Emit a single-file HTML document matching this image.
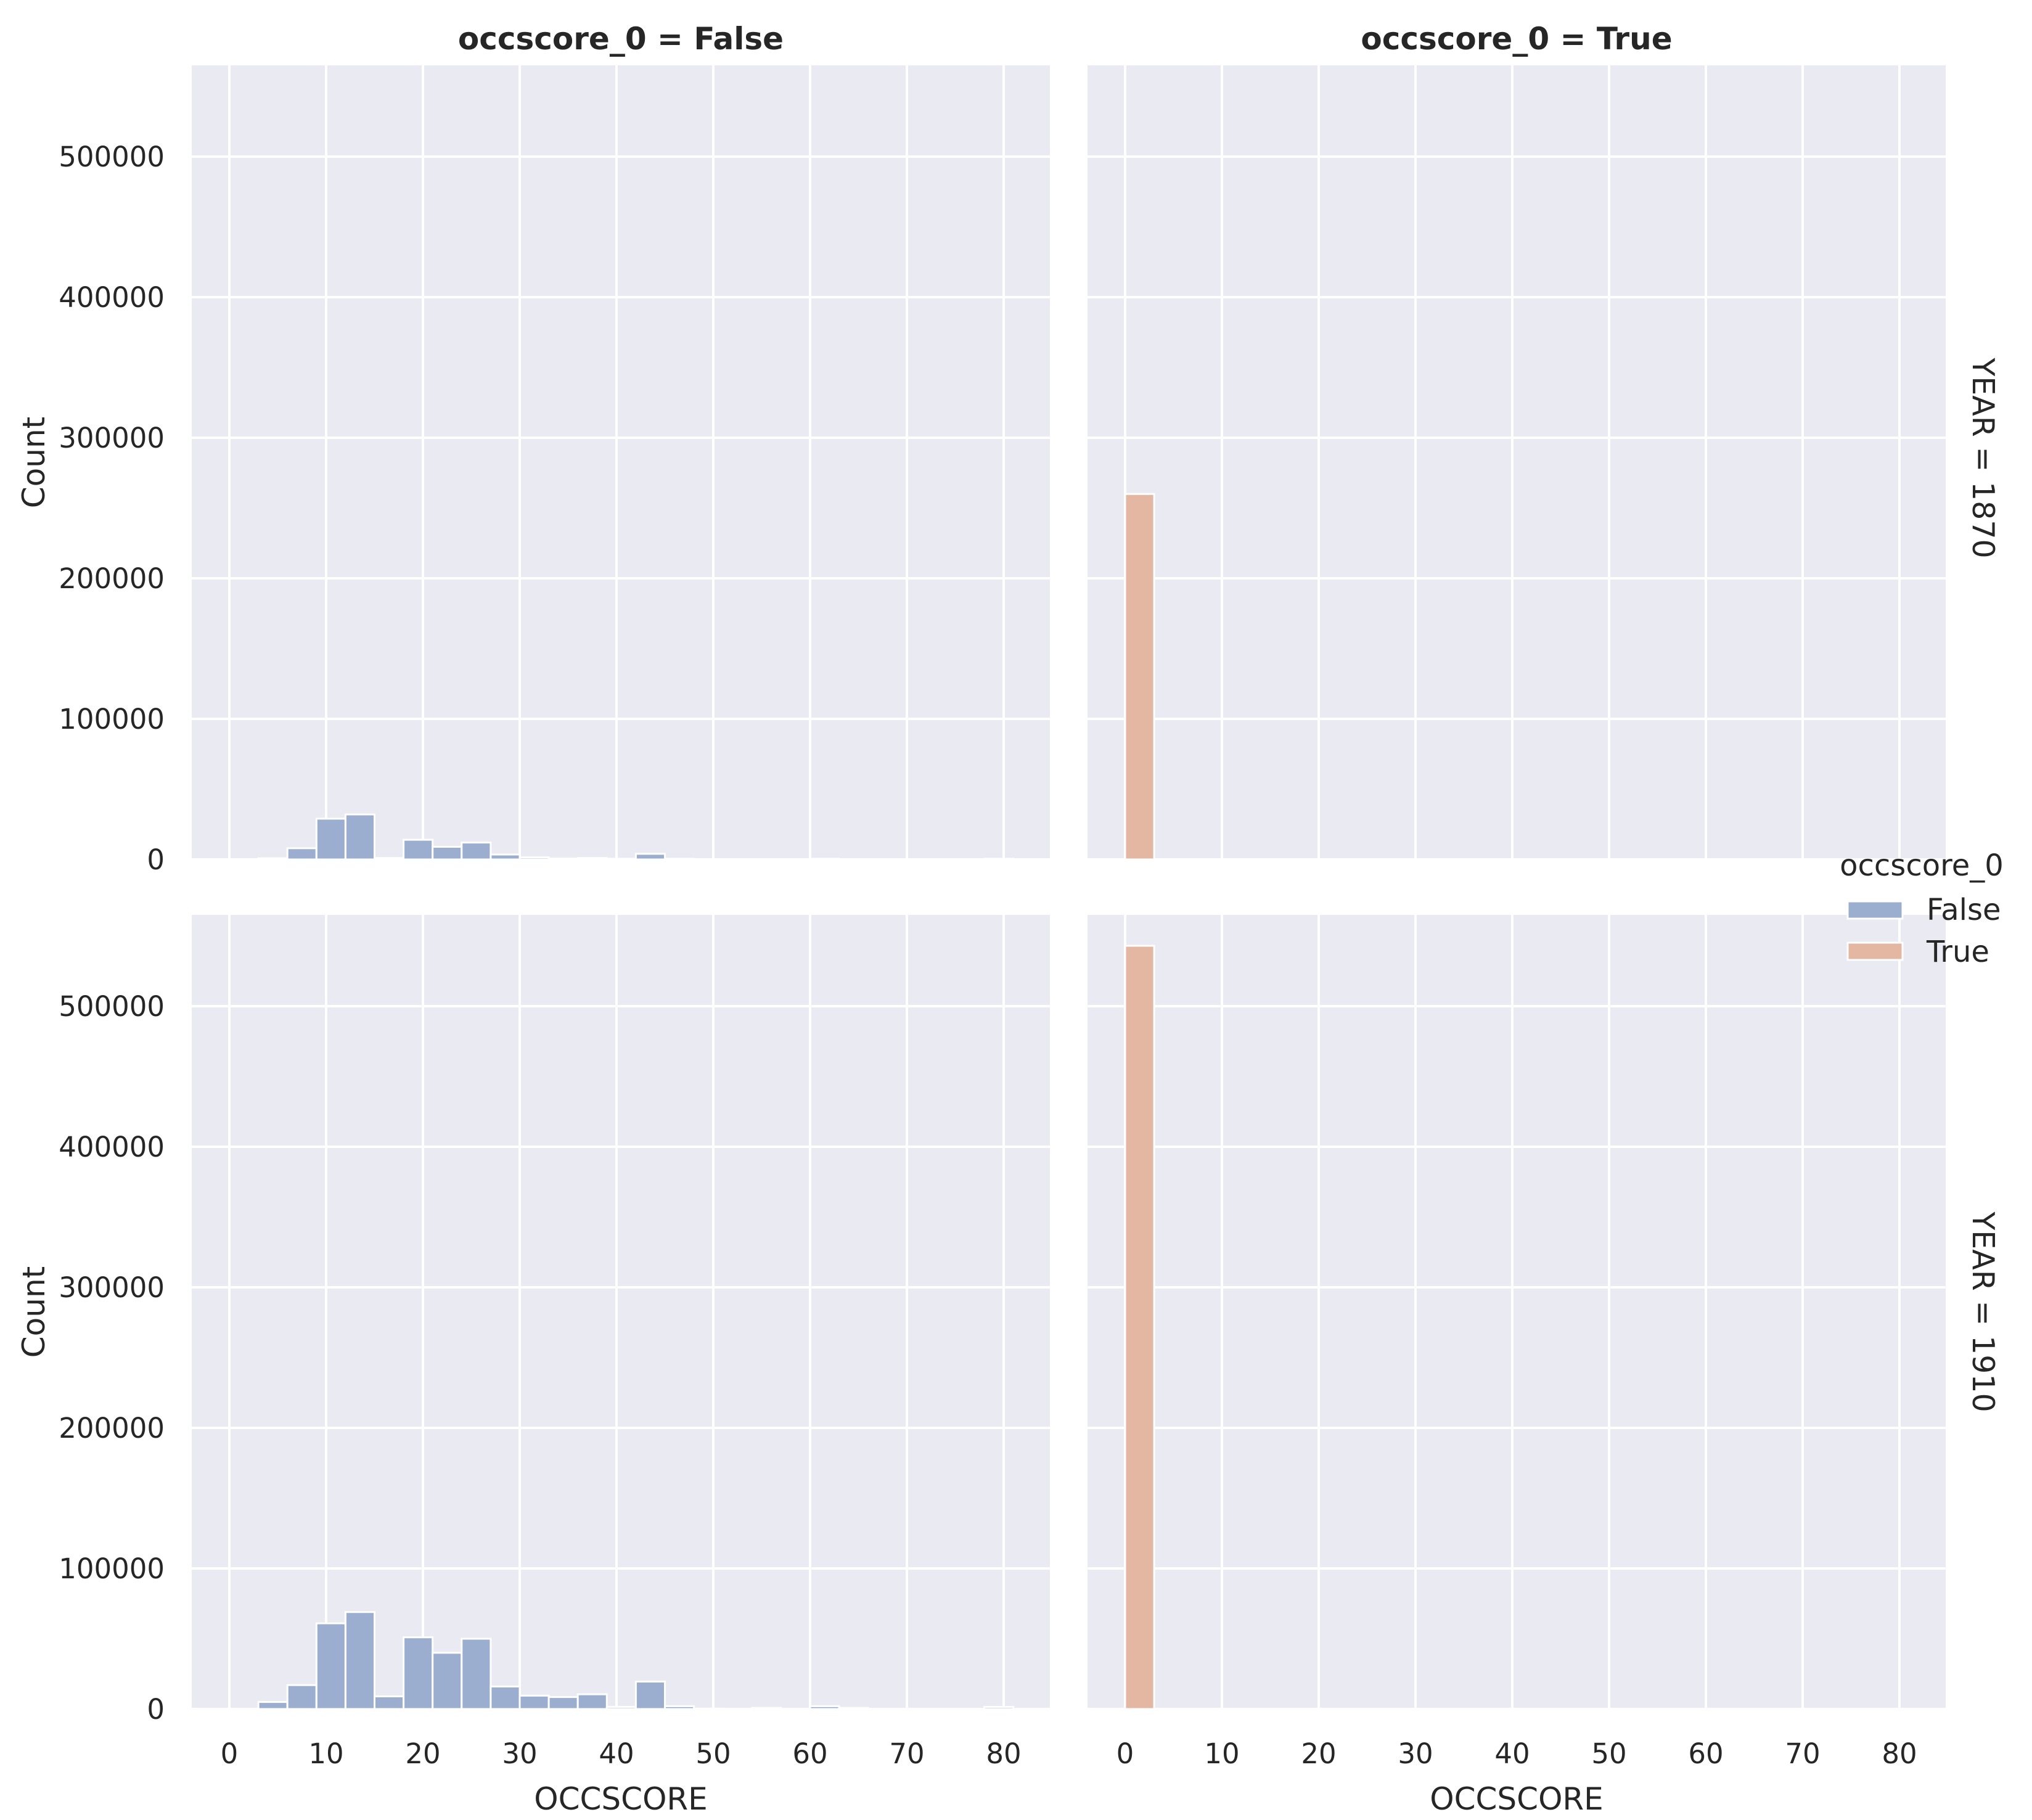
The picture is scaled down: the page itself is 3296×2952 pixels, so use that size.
<!DOCTYPE html>
<html><head><meta charset="utf-8"><style>html,body{margin:0;padding:0;background:#fff}svg{display:block}</style></head><body>
<svg width="3296" height="2952" viewBox="0 0 3296 2952" xmlns="http://www.w3.org/2000/svg" font-family="DejaVu Sans, Liberation Sans, sans-serif" fill="#262626">
<defs>
<g id="vg" stroke="#fff" stroke-width="4">
<line x1="61" y1="0" x2="61" y2="1288"/><line x1="218" y1="0" x2="218" y2="1288"/><line x1="375" y1="0" x2="375" y2="1288"/><line x1="532" y1="0" x2="532" y2="1288"/><line x1="689" y1="0" x2="689" y2="1288"/><line x1="846" y1="0" x2="846" y2="1288"/><line x1="1003" y1="0" x2="1003" y2="1288"/><line x1="1160" y1="0" x2="1160" y2="1288"/><line x1="1317" y1="0" x2="1317" y2="1288"/>
<line x1="0" y1="1288" x2="1392" y2="1288"/><line x1="0" y1="1060" x2="1392" y2="1060"/><line x1="0" y1="832" x2="1392" y2="832"/><line x1="0" y1="604" x2="1392" y2="604"/><line x1="0" y1="376" x2="1392" y2="376"/><line x1="0" y1="148" x2="1392" y2="148"/>
</g>
</defs>
<rect x="311" y="106" width="1392" height="1288" fill="#eaeaf2"/>
<rect x="1764" y="106" width="1392" height="1288" fill="#eaeaf2"/>
<rect x="311" y="1484" width="1392" height="1288" fill="#eaeaf2"/>
<rect x="1764" y="1484" width="1392" height="1288" fill="#eaeaf2"/>
<use href="#vg" x="311" y="106"/>
<use href="#vg" x="1764" y="106"/>
<use href="#vg" x="311" y="1484"/>
<use href="#vg" x="1764" y="1484"/>

<g fill="#9baed0" stroke="#fff" stroke-width="3">
<rect x="419.1" y="1392.2" width="47.1" height="1.8"/>
<rect x="466.2" y="1375.8" width="47.1" height="18.2"/>
<rect x="513.3" y="1327.9" width="47.1" height="66.1"/>
<rect x="560.4" y="1321" width="47.1" height="73"/>
<rect x="607.5" y="1391.7" width="47.1" height="2.3"/>
<rect x="654.6" y="1362.1" width="47.1" height="31.9"/>
<rect x="701.7" y="1373.5" width="47.1" height="20.5"/>
<rect x="748.8" y="1366.6" width="47.1" height="27.4"/>
<rect x="795.9" y="1386" width="47.1" height="8"/>
<rect x="843" y="1390.6" width="47.1" height="3.4"/>
<rect x="890.1" y="1392.6" width="47.1" height="1.4"/>
<rect x="937.2" y="1391.7" width="47.1" height="2.3"/>
<rect x="984.3" y="1392.9" width="47.1" height="1.1"/>
<rect x="1031.4" y="1384.9" width="47.1" height="9.1"/>
<rect x="1078.5" y="1392.9" width="47.1" height="1.1"/>
<rect x="1314" y="1392.9" width="47.1" height="1.1"/>
<rect x="1596.6" y="1392.9" width="47.1" height="1.1"/>
</g>
<g fill="#9baed0" stroke="#fff" stroke-width="3">
<rect x="419.1" y="2760.6" width="47.1" height="11.4"/>
<rect x="466.2" y="2733.2" width="47.1" height="38.8"/>
<rect x="513.3" y="2633" width="47.1" height="139"/>
<rect x="560.4" y="2614.7" width="47.1" height="157.3"/>
<rect x="607.5" y="2751.5" width="47.1" height="20.5"/>
<rect x="654.6" y="2655.7" width="47.1" height="116.3"/>
<rect x="701.7" y="2680.8" width="47.1" height="91.2"/>
<rect x="748.8" y="2658" width="47.1" height="114"/>
<rect x="795.9" y="2735.5" width="47.1" height="36.5"/>
<rect x="843" y="2750.3" width="47.1" height="21.7"/>
<rect x="890.1" y="2752.6" width="47.1" height="19.4"/>
<rect x="937.2" y="2748.1" width="47.1" height="23.9"/>
<rect x="984.3" y="2768.6" width="47.1" height="3.4"/>
<rect x="1031.4" y="2727.5" width="47.1" height="44.5"/>
<rect x="1078.5" y="2767.4" width="47.1" height="4.6"/>
<rect x="1125.6" y="2771.3" width="47.1" height="0.7"/>
<rect x="1219.8" y="2770.2" width="47.1" height="1.8"/>
<rect x="1314" y="2767.4" width="47.1" height="4.6"/>
<rect x="1361.1" y="2770.2" width="47.1" height="1.8"/>
<rect x="1596.6" y="2768.6" width="47.1" height="3.4"/>
</g>
<g fill="#e4b7a2" stroke="#fff" stroke-width="3">
<rect x="1825" y="801.2" width="47.1" height="592.8"/>
<rect x="1825" y="1534" width="47.1" height="1238"/>
</g>

<g font-size="45" text-anchor="end">
<text x="267" y="1410">0</text><text x="267" y="1182">100000</text><text x="267" y="954">200000</text><text x="267" y="726">300000</text><text x="267" y="498">400000</text><text x="267" y="270">500000</text>
<text x="267" y="2788">0</text><text x="267" y="2560">100000</text><text x="267" y="2332">200000</text><text x="267" y="2104">300000</text><text x="267" y="1876">400000</text><text x="267" y="1648">500000</text>
</g>
<g font-size="45" text-anchor="middle">
<text x="372" y="2860">0</text><text x="529" y="2860">10</text><text x="686" y="2860">20</text><text x="843" y="2860">30</text><text x="1000" y="2860">40</text><text x="1157" y="2860">50</text><text x="1314" y="2860">60</text><text x="1471" y="2860">70</text><text x="1628" y="2860">80</text>
<text x="1825" y="2860">0</text><text x="1982" y="2860">10</text><text x="2139" y="2860">20</text><text x="2296" y="2860">30</text><text x="2453" y="2860">40</text><text x="2610" y="2860">50</text><text x="2767" y="2860">60</text><text x="2924" y="2860">70</text><text x="3081" y="2860">80</text>
</g>
<g font-size="50" text-anchor="middle">
<text x="1007" y="2935">OCCSCORE</text>
<text x="2460" y="2935">OCCSCORE</text>
<text transform="translate(72,750) rotate(-90)">Count</text>
<text transform="translate(72,2128) rotate(-90)">Count</text>
</g>
<g font-size="49" text-anchor="middle">
<text transform="translate(3200,743) rotate(90)">YEAR = 1870</text>
<text transform="translate(3200,2128) rotate(90)">YEAR = 1910</text>
</g>
<g font-size="50" font-weight="bold" text-anchor="middle">
<text x="1007" y="80">occscore_0 = False</text>
<text x="2460" y="80">occscore_0 = True</text>
</g>
<text x="3117" y="1420" font-size="48" text-anchor="middle">occscore_0</text>
<rect x="2997" y="1462" width="89" height="28" fill="#9baed0" stroke="#fff" stroke-width="3"/>
<rect x="2997" y="1529" width="89" height="28" fill="#e4b7a2" stroke="#fff" stroke-width="3"/>
<text x="3125" y="1492" font-size="48">False</text>
<text x="3125" y="1560" font-size="48">True</text>
</svg>
</body></html>
